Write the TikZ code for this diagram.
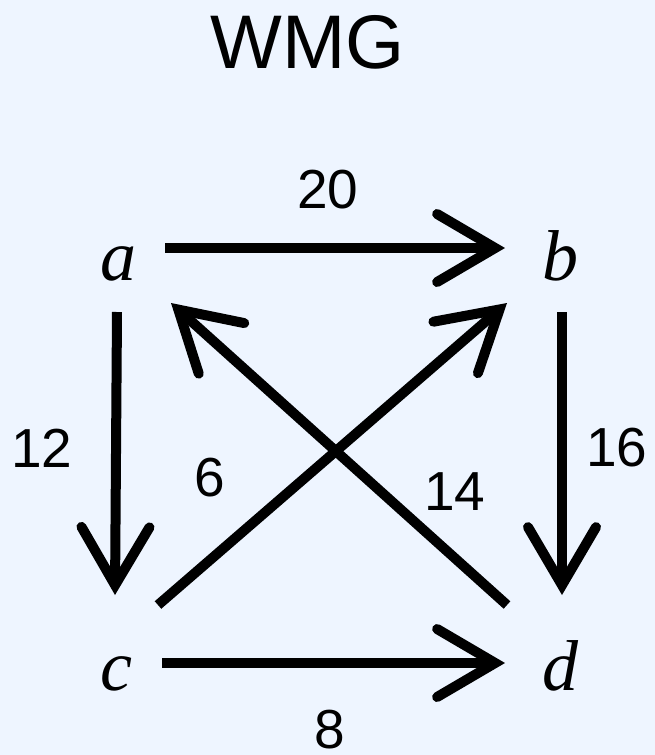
\documentclass[tikz,border=0pt]{standalone}
\usepackage{fontspec}
\setmainfont{Liberation Sans}
\newfontfamily\vertexfont{Liberation Serif}
\usetikzlibrary{arrows.meta}

\definecolor{paper}{RGB}{238,245,255}

\tikzset{
	vertex/.style={anchor=base, inner sep=0pt, font=\vertexfont\itshape\fontsize{72}{72}\selectfont},
	weight/.style={inner sep=0pt, font=\fontsize{55}{55}\selectfont},
	edge/.style={line width=10pt, -{Straight Barb[length=58pt, width=68pt, line cap=round, line join=miter]}}
}

\begin{document}
\begin{tikzpicture}[x=1pt, y=-1pt]
		
		% page
		\fill[paper] (0,0) rectangle (655,755);
		\useasboundingbox (0,0) rectangle (655,755);
		
		% title
		\node[inner sep=0pt, font=\fontsize{76}{76}\selectfont] (title) at (308,42) {WMG};
		
		% vertices
		\node[vertex] (a) at (118,280) {a};
		\node[vertex] (b) at (560,280) {b};
		\node[vertex] (c) at (116,690) {c};
		\node[vertex] (d) at (560,690) {d};
		
		% edges
		\draw[edge] ([xshift=47pt,yshift=32pt]a.base) -- ([xshift=-55pt,yshift=32pt]b.base);
		\draw[edge] ([xshift=-1pt,yshift=-32pt]a.base) -- ([xshift=-1pt,yshift=95pt]c.base);
		\draw[edge] ([xshift=2pt,yshift=-32pt]b.base) -- ([xshift=2pt,yshift=95pt]d.base);
		\draw[edge] ([xshift=46pt,yshift=27pt]c.base) -- ([xshift=-55pt,yshift=27pt]d.base);
		\draw[edge] ([xshift=42pt,yshift=85pt]c.base) -- ([xshift=-53pt,yshift=-23pt]b.base);
		\draw[edge] ([xshift=-53pt,yshift=85pt]d.base) -- ([xshift=53pt,yshift=-23pt]a.base);
		
		% weights
		\node[weight] (wab) at (328,190) {20};
		\node[weight] (wac) at (42,448) {12};
		\node[weight] (wbd) at (617,448) {16};
		\node[weight] (wcb) at (210,478) {6};
		\node[weight] (wda) at (455,492) {14};
		\node[weight] (wcd) at (330,730) {8};
		
	\end{tikzpicture}
\end{document}
